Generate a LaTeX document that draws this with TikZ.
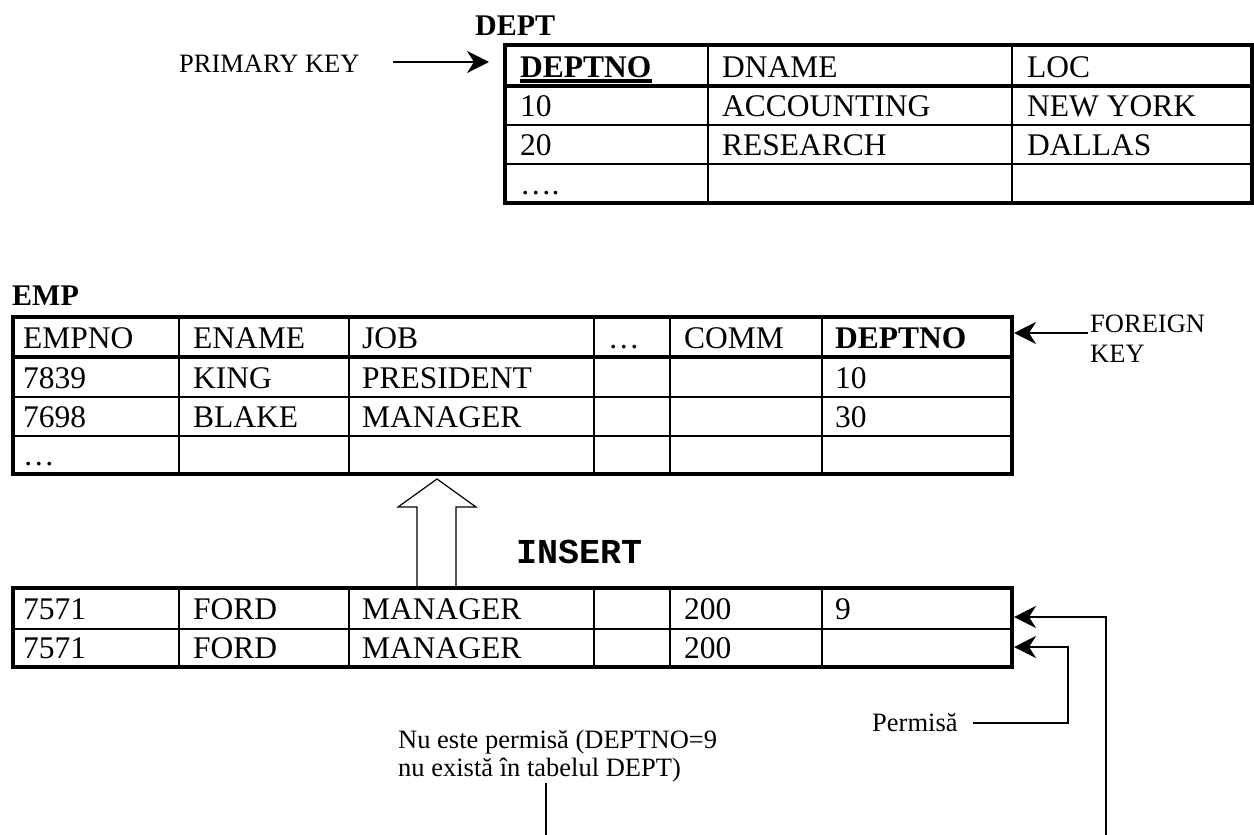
\documentclass[tikz,border=0pt]{standalone}
\usepackage{fontspec}
\setmainfont{Liberation Serif}
\newfontfamily\insmono{Liberation Mono}
\usetikzlibrary{arrows.meta}
\begin{document}
\begin{tikzpicture}[x=1pt,y=-1pt,
  thickline/.style={line width=3.5pt},
  thinline/.style={line width=2pt},
  cell/.style={inner sep=0pt, anchor=base west, font=\fontsize{31.5}{36}\selectfont},
  bcell/.style={cell, font=\bfseries\fontsize{31.5}{36}\selectfont},
  lbl/.style={inner sep=0pt, anchor=base west, font=\fontsize{26.5}{30}\selectfont},
  ttl/.style={inner sep=0pt, anchor=base west, font=\bfseries\fontsize{30}{34}\selectfont},
  conn/.style={line width=2pt, -{Stealth[length=22pt,width=22pt,inset=7pt]}},
  plain/.style={line width=1.8pt},
]
\useasboundingbox (0,0) rectangle (1254,835);

% ---------- DEPT table ----------
\node[ttl] (depttitle) at (475,35) {DEPT};
\draw[thinline] (505,125) -- (1253,125) (505,164) -- (1253,164);
\draw[thinline] (708,45) -- (708,203) (1012,45) -- (1012,203);
\draw[thickline] (505,86) -- (1253,86);
\draw[thickline] (505,45) rectangle (1252,203);

\node[bcell] (d01) at (520,77) {DEPTNO};
\draw[line width=3.5pt] ([yshift=-4pt]d01.base west) -- ([yshift=-4pt]d01.base east);
\node[cell] (d02) at (722,77) {DNAME};
\node[cell] (d03) at (1027,77) {LOC};
\node[cell] (d11) at (520,116) {10};
\node[cell] (d12) at (722,116) {ACCOUNTING};
\node[cell] (d13) at (1027,116) {NEW YORK};
\node[cell] (d21) at (520,155) {20};
\node[cell] (d22) at (722,155) {RESEARCH};
\node[cell] (d23) at (1027,155) {DALLAS};
\node[cell] (d31) at (520,194) {….};

% primary key
\node[lbl] (pk) at (179,72) {PRIMARY KEY};
\coordinate (pkstart) at (393,62);
\coordinate (pktip) at (489,62);
\draw[conn] (pkstart) -- (pktip);

% ---------- EMP table ----------
\node[ttl] (emptitle) at (12,305) {EMP};
\draw[thinline] (13,397) -- (1012,397) (13,436) -- (1012,436);
\foreach \cx in {179,349,594,670,822} \draw[thinline] (\cx,317) -- (\cx,474);
\draw[thickline] (13,357) -- (1012,357);
\draw[thickline] (13,317) rectangle (1012,474);

\node[cell] (e01) at (23,348) {EMPNO};
\node[cell] (e02) at (193,348) {ENAME};
\node[cell] (e03) at (362,348) {JOB};
\node[cell] (e04) at (608,348) {…};
\node[cell] (e05) at (684,348) {COMM};
\node[bcell] (e06) at (835,348) {DEPTNO};
\node[cell] (e11) at (23,388) {7839};
\node[cell] (e12) at (193,388) {KING};
\node[cell] (e13) at (362,388) {PRESIDENT};
\node[cell] (e16) at (835,388) {10};
\node[cell] (e21) at (23,427) {7698};
\node[cell] (e22) at (193,427) {BLAKE};
\node[cell] (e23) at (362,427) {MANAGER};
\node[cell] (e26) at (835,427) {30};
\node[cell] (e31) at (23,465) {…};

% foreign key
\node[lbl] (fk1) at (1090,332) {FOREIGN};
\node[lbl] (fk2) at (1090,362) {KEY};
\coordinate (fkstart) at (1088,333);
\coordinate (fktip) at (1014,333);
\draw[conn] (fkstart) -- (fktip);

% ---------- INSERT block arrow ----------
\draw[line width=1.2pt, fill=white] (417,588) -- (417,507) -- (398,507) -- (437,479)
  -- (476,507) -- (456,507) -- (456,588);
\node[inner sep=0pt, anchor=base west, font=\insmono\bfseries\fontsize{35}{40}\selectfont] (ins) at (516,563) {INSERT};

% ---------- inserted rows ----------
\draw[thinline] (13,629) -- (1012,629);
\foreach \cx in {179,349,594,670,822} \draw[thinline] (\cx,588) -- (\cx,667);
\draw[thickline] (13,588) rectangle (1012,667);

\node[cell] (i11) at (23,619) {7571};
\node[cell] (i12) at (193,619) {FORD};
\node[cell] (i13) at (362,619) {MANAGER};
\node[cell] (i15) at (684,619) {200};
\node[cell] (i16) at (835,619) {9};
\node[cell] (i21) at (23,658) {7571};
\node[cell] (i22) at (193,658) {FORD};
\node[cell] (i23) at (362,658) {MANAGER};
\node[cell] (i25) at (684,658) {200};

% ---------- annotations ----------
\node[lbl] (perm) at (872,731) {Permisă};
\coordinate (permtip) at (1014,647);
\draw[conn, line width=1.8pt] ([xshift=15pt]perm.east |- 0,723) -- (1068,723) -- (1068,647) -- (permtip);

\node[lbl] (nu1) at (398,748) {Nu este permisă (DEPTNO=9};
\node[lbl] (nu2) at (398,776) {nu există în tabelul DEPT)};
\coordinate (nubot) at (546,835);
\draw[plain] (nubot |- 0,783) -- (nubot);

\coordinate (rbot) at (1106,835);
\coordinate (rtip) at (1014,617);
\draw[conn] (rbot) -- (1106,617) -- (rtip);
\end{tikzpicture}
\end{document}
